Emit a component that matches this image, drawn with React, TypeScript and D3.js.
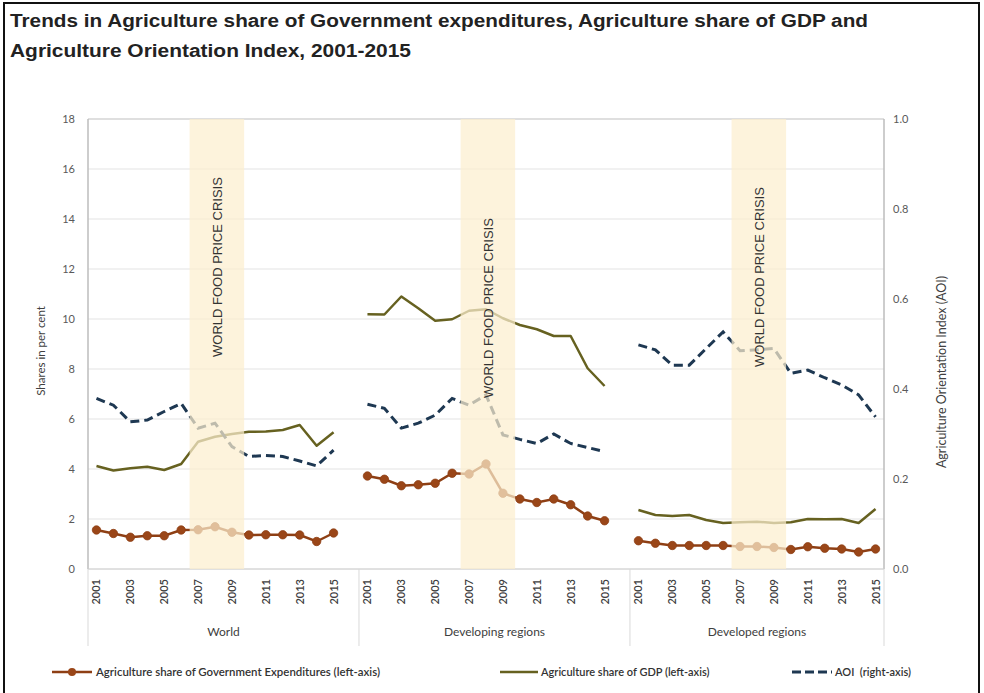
import React from "react";
import * as d3 from "d3";

const years = [2001, 2002, 2003, 2004, 2005, 2006, 2007, 2008, 2009, 2010, 2011, 2012, 2013, 2014, 2015];
const tickYears = [2001, 2003, 2005, 2007, 2009, 2011, 2013, 2015];
const groups = ["World", "Developing regions", "Developed regions"];
const crisisYears = [2007, 2010];

const govWorld = [1.56, 1.42, 1.27, 1.33, 1.33, 1.56, 1.57, 1.69, 1.47, 1.36, 1.37, 1.37, 1.36, 1.1, 1.44];
const govDeveloping = [3.72, 3.59, 3.33, 3.37, 3.43, 3.83, 3.8, 4.2, 3.03, 2.8, 2.66, 2.8, 2.57, 2.12, 1.93];
const govDeveloped = [1.13, 1.03, 0.94, 0.94, 0.94, 0.94, 0.9, 0.9, 0.86, 0.78, 0.89, 0.83, 0.8, 0.68, 0.8];

const gdpWorld = [4.12, 3.94, 4.03, 4.09, 3.96, 4.2, 5.09, 5.29, 5.4, 5.49, 5.5, 5.56, 5.76, 4.93, 5.47];
const gdpDeveloping = [10.19, 10.18, 10.9, 10.43, 9.93, 9.99, 10.33, 10.39, 10.03, 9.76, 9.59, 9.32, 9.32, 8.03, 7.32];
const gdpDeveloped = [2.36, 2.16, 2.12, 2.16, 1.96, 1.84, 1.87, 1.89, 1.84, 1.87, 2.0, 1.99, 2.0, 1.84, 2.4];

const aoiWorld = [0.379, 0.364, 0.327, 0.331, 0.35, 0.368, 0.313, 0.324, 0.272, 0.25, 0.252, 0.25, 0.24, 0.229, 0.264];
const aoiDeveloping = [0.366, 0.357, 0.313, 0.324, 0.342, 0.379, 0.364, 0.387, 0.298, 0.288, 0.279, 0.3, 0.279, 0.27, 0.261];
const aoiDeveloped = [0.498, 0.487, 0.453, 0.453, 0.49, 0.527, 0.485, 0.487, 0.49, 0.435, 0.442, 0.425, 0.409, 0.387, 0.338];

const leftTicks = [0, 2, 4, 6, 8, 10, 12, 14, 16, 18];
const rightTicks = [0, 0.2, 0.4, 0.6, 0.8, 1.0];

const govSeries = [govWorld, govDeveloping, govDeveloped];
const gdpSeries = [gdpWorld, gdpDeveloping, gdpDeveloped];
const aoiSeries = [aoiWorld, aoiDeveloping, aoiDeveloped];

const legendItems = [
  "Agriculture share of Government Expenditures (left-axis)",
  "Agriculture share of GDP (left-axis)",
  "AOI  (right-axis)",
];

const W = 984;
const H = 693;
const plotL = 88;
const plotR = 884;
const plotT = 119;
const plotB = 569;
const GROUP_SLOTS = 16;
const FONT = "Lato, 'Open Sans', sans-serif";

const GOV_COLOR = "#8e3f14";
const GOV_MARK = "#9a4618";
const GDP_COLOR = "#666120";
const AOI_COLOR = "#1e3852";

export default function App() {
  const slots = d3.range(GROUP_SLOTS * 2 + years.length).map(String);
  const x = d3.scaleBand<string>().domain(slots).range([plotL, plotR]).padding(0);
  const bw = x.bandwidth();
  const idx = (g: number, yr: number) => String(g * GROUP_SLOTS + (yr - years[0]));
  const cx = (g: number, yr: number) => (x(idx(g, yr)) as number) + bw / 2;

  const yL = d3.scaleLinear().domain([0, 18]).range([plotB, plotT]);
  const yR = d3.scaleLinear().domain([0, 1]).range([plotB, plotT]);

  const lineL = (g: number) =>
    d3
      .line<number>()
      .x((_, i) => cx(g, years[i]))
      .y((v) => yL(v));
  const lineR = (g: number) =>
    d3
      .line<number>()
      .x((_, i) => cx(g, years[i]))
      .y((v) => yR(v));

  const groupBounds = [0, 1, 2].map((g) => {
    const start = x(String(g * GROUP_SLOTS)) as number;
    const endIdx = Math.min(g * GROUP_SLOTS + GROUP_SLOTS, slots.length);
    const end = endIdx >= slots.length ? plotR : (x(String(endIdx)) as number);
    return [start, end];
  });

  const crisisTextBottom = [357, 398, 367];

  return (
    <svg
      width={W}
      height={H}
      style={{ position: "fixed", left: 0, top: 0, background: "#fff" }}
      fontFamily={FONT}
    >
      <rect x={0} y={0} width={W} height={H} fill="#fff" />
      <rect x={4} y={3} width={975} height={H + 10} fill="none" stroke="#111" strokeWidth={2} />

      {/* Title */}
      <text x={10} y={27} fontFamily="'Liberation Sans', Arial, sans-serif" fontWeight="bold" fontSize={18} fill="#222" textLength={858} lengthAdjust="spacingAndGlyphs">
        Trends in Agriculture share of Government expenditures, Agriculture share of GDP and
      </text>
      <text x={10} y={57} fontFamily="'Liberation Sans', Arial, sans-serif" fontWeight="bold" fontSize={18} fill="#222" textLength={401} lengthAdjust="spacingAndGlyphs">
        Agriculture Orientation Index, 2001-2015
      </text>

      {/* gridlines */}
      {leftTicks.map((t) => (
        <line key={"g" + t} x1={plotL} x2={plotR} y1={yL(t)} y2={yL(t)} stroke={t === 18 ? "#bfbfbf" : "#e3e3e3"} strokeWidth={1} />
      ))}
      {/* axes lines */}
      <line x1={plotL} x2={plotL} y1={plotT} y2={plotB} stroke="#bdbdbd" strokeWidth={1.5} />
      <line x1={plotR} x2={plotR} y1={plotT} y2={plotB} stroke="#bdbdbd" strokeWidth={1.5} />
      <line x1={plotL} x2={plotR} y1={plotB} y2={plotB} stroke="#d0d0d0" strokeWidth={1} />

      {/* group separators */}
      {[groupBounds[0][0], groupBounds[1][0], groupBounds[2][0], plotR].map((bx, i) => (
        <line key={"sep" + i} x1={bx} x2={bx} y1={plotB} y2={646} stroke="#d9d9d9" strokeWidth={1} />
      ))}

      {/* left ticks */}
      {leftTicks.map((t) => (
        <text key={"lt" + t} x={75} y={yL(t) + 4} textAnchor="end" fontSize={11} fill="#595959">
          {t}
        </text>
      ))}
      {/* right ticks */}
      {rightTicks.map((t) => (
        <text key={"rt" + t} x={893} y={yR(t) + 4} textAnchor="start" fontSize={11} fill="#595959">
          {t.toFixed(1)}
        </text>
      ))}
      <text transform={`translate(45,${(plotT + plotB) / 2 + 7}) rotate(-90)`} textAnchor="middle" fontSize={11.5} fill="#404040">
        Shares in per cent
      </text>
      <text transform={`translate(946,${(plotT + plotB) / 2 + 28}) rotate(-90)`} textAnchor="middle" fontSize={12.5} fill="#404040">
        Agriculture Orientation Index (AOI)
      </text>

      {/* x tick labels */}
      {groups.map((g, gi) =>
        tickYears.map((yr) => (
          <text
            key={g + yr}
            transform={`translate(${cx(gi, yr) + 4},${579}) rotate(-90)`}
            textAnchor="end"
            fontSize={11}
            fontWeight={600}
            fill="#404040"
          >
            {yr}
          </text>
        ))
      )}
      {groups.map((g, gi) => (
        <text key={"gl" + g} x={(groupBounds[gi][0] + groupBounds[gi][1]) / 2} y={636} textAnchor="middle" fontSize={12} fill="#404040">
          {g}
        </text>
      ))}

      {/* series */}
      {groups.map((g, gi) => (
        <g key={"s" + g}>
          <path d={lineL(gi)(gdpSeries[gi]) || ""} fill="none" stroke={GDP_COLOR} strokeWidth={2.5} strokeLinejoin="round" />
          <path d={lineR(gi)(aoiSeries[gi]) || ""} fill="none" stroke={AOI_COLOR} strokeWidth={3} strokeDasharray="9,5" />
          <path d={lineL(gi)(govSeries[gi]) || ""} fill="none" stroke={GOV_COLOR} strokeWidth={2.5} />
          {govSeries[gi].map((v, i) => (
            <circle key={i} cx={cx(gi, years[i])} cy={yL(v)} r={4.2} fill={GOV_MARK} stroke={GOV_COLOR} strokeWidth={0.8} />
          ))}
        </g>
      ))}

      {/* crisis bands */}
      {groups.map((g, gi) => {
        const x0 = x(idx(gi, crisisYears[0])) as number;
        const x1 = (x(idx(gi, crisisYears[1])) as number) + bw * 0.22;
        return (
          <g key={"c" + g}>
            <rect x={x0} y={plotT} width={x1 - x0} height={plotB - plotT} fill="#fcefcf" opacity={0.72} />
            <text
              transform={`translate(${(x0 + x1) / 2 + 5},${crisisTextBottom[gi]}) rotate(-90)`}
              fontFamily="'Liberation Sans', Arial, sans-serif"
              fontSize={13}
              fill="#333"
            >
              WORLD FOOD PRICE CRISIS
            </text>
          </g>
        );
      })}

      {/* legend */}
      <g>
        <line x1={52} x2={92} y1={672} y2={672} stroke={GOV_COLOR} strokeWidth={2.5} />
        <circle cx={72} cy={672} r={4} fill={GOV_MARK} />
        <text x={96} y={676} fontSize={11} fontWeight={600} fill="#333" textLength={284} lengthAdjust="spacingAndGlyphs">
          {legendItems[0]}
        </text>
        <line x1={500} x2={538} y1={672} y2={672} stroke={GDP_COLOR} strokeWidth={2.5} />
        <text x={541} y={676} fontSize={11} fontWeight={600} fill="#333">
          {legendItems[1]}
        </text>
        <line x1={792} x2={832} y1={672} y2={672} stroke={AOI_COLOR} strokeWidth={3} strokeDasharray="9,4" />
        <text x={835} y={676} fontSize={11} fontWeight={600} fill="#333" xmlSpace="preserve">
          {legendItems[2]}
        </text>
      </g>
    </svg>
  );
}
